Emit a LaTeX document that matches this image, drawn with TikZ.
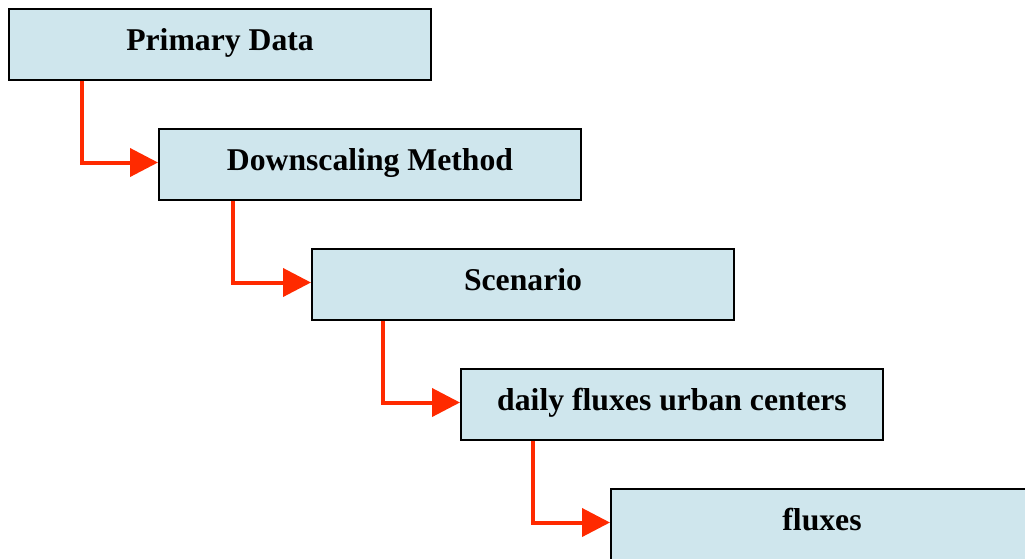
\documentclass[tikz,border=0pt]{standalone}
\usepackage{fontspec}
\setmainfont{Liberation Serif}
\usetikzlibrary{arrows.meta}
\definecolor{boxfill}{HTML}{CFE6ED}
\definecolor{arrred}{HTML}{FF2A00}
\begin{document}
\begin{tikzpicture}[x=1pt,y=-1pt,
  stepbox/.style={draw=black,line width=2pt,fill=boxfill,minimum width=422pt,minimum height=71pt,
    anchor=north west,inner sep=0pt,font=\fontsize{31.7}{36}\selectfont\bfseries,text depth=0pt},
  arr/.style={draw=arrred,line width=4pt,-{Triangle[length=28pt,width=28pt]}}]
\useasboundingbox (0,0) rectangle (1025,558);
\clip (0,0) rectangle (1025,558);
\fill[white] (0,0) rectangle (1025,558);
\node[stepbox] (a) at (8,8) {\raisebox{10pt}{Primary Data}};
\node[stepbox] (b) at (158,128) {\raisebox{10pt}{Downscaling Method}};
\node[stepbox] (c) at (311,248) {\raisebox{10pt}{Scenario}};
\node[stepbox] (d) at (460,368) {\raisebox{10pt}{daily fluxes urban centers}};
\node[stepbox] (e) at (610,488) {\raisebox{10pt}{fluxes}};
\draw[arr] ([xshift=74pt]a.south west) |- ([yshift=2pt]b.west);
\draw[arr] ([xshift=75pt]b.south west) |- ([yshift=2pt]c.west);
\draw[arr] ([xshift=72pt]c.south west) |- ([yshift=2pt]d.west);
\draw[arr] ([xshift=73pt]d.south west) |- ([yshift=2pt]e.west);
\end{tikzpicture}
\end{document}
